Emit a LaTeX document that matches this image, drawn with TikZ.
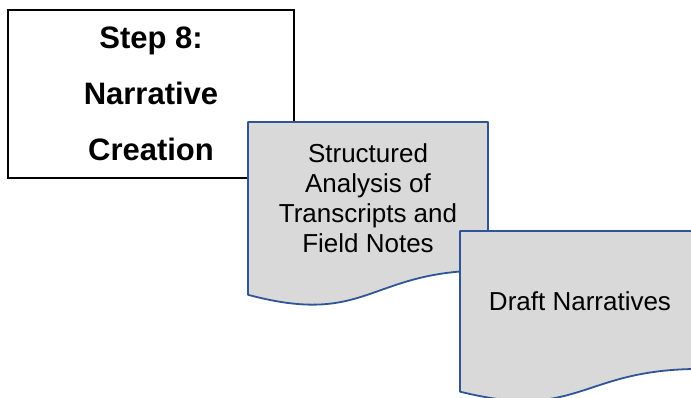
\documentclass[tikz,border=0pt]{standalone}
\usepackage{fontspec}
\setmainfont{Liberation Sans}
\definecolor{docblue}{RGB}{47,85,151}
\definecolor{docgrey}{RGB}{217,217,217}
% Office style document outline: corner (x,y), width, height
\newcommand{\docpath}[4]{(#1,#2) -- ++(#3,0) -- ++(0,0.802*#4)
  .. controls ({#1+0.5*#3},{#2+0.802*#4}) and ({#1+0.5*#3},{#2+1.1075*#4}) .. (#1,{#2+0.934*#4}) -- cycle}

\begin{document}
\begin{tikzpicture}[x=1pt,y=-1pt]
\tikzstyle{stepbox}=[draw=black,line width=2pt,minimum width=286pt,minimum height=168pt,inner sep=0pt]
\tikzstyle{doc}=[draw=docblue,fill=docgrey,line width=1.8pt,line join=round]
\tikzstyle{steptext}=[align=center,inner sep=0pt,font=\fontsize{31}{56}\selectfont\bfseries]
\tikzstyle{doctext}=[align=center,inner sep=0pt,font=\fontsize{26}{30}\selectfont]
\useasboundingbox (0,0) rectangle (691,397);
\clip (0,0) rectangle (691,397);
\node[stepbox] (step) at (151,94) {};
\node[steptext,anchor=north] (steplabel) at (151,27) {Step 8:\\Narrative\\Creation};
\draw[doc] \docpath{248}{122}{240}{185};
\node[doctext,anchor=north] (analysis) at (368,143) {Structured\\Analysis of\\Transcripts and\\Field Notes};
\draw[doc] \docpath{460}{231}{240}{172};
\node[doctext,anchor=base] (draft) at (580,310) {Draft Narratives};
\end{tikzpicture}
\end{document}
